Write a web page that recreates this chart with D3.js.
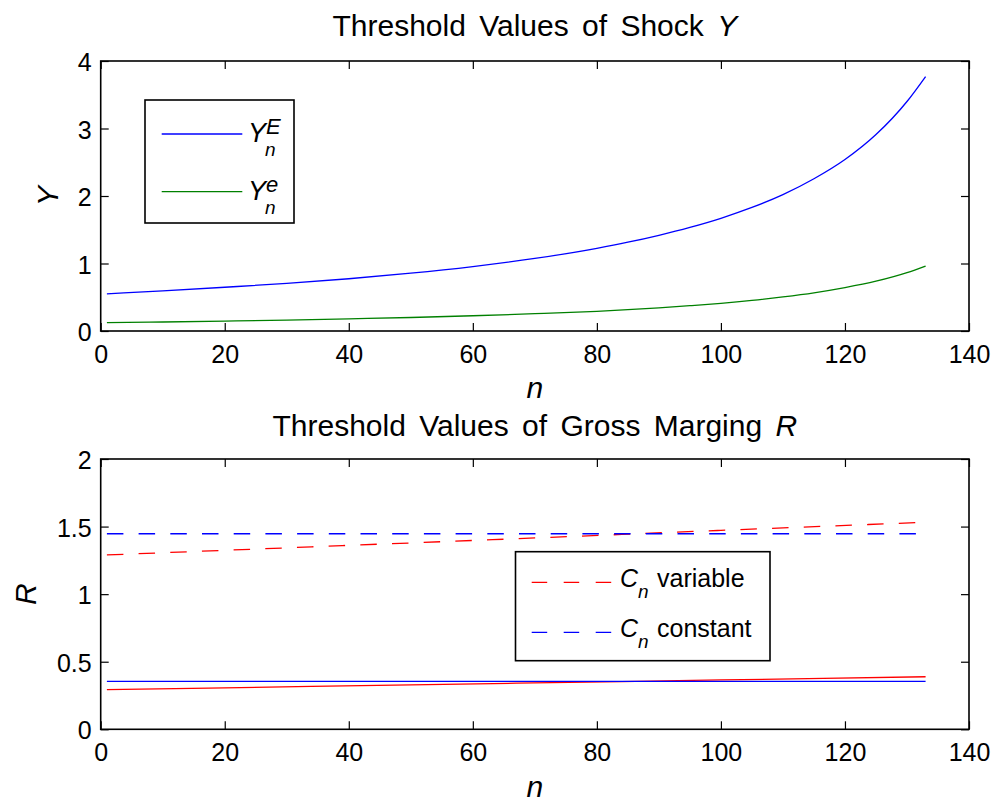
<!DOCTYPE html>
<html>
<head>
<meta charset="utf-8">
<script src="https://cdn.jsdelivr.net/npm/d3@7"></script>
<style>
  html, body { margin: 0; padding: 0; background: #fff; }
  svg { display: block; font-family: "Liberation Sans", Arial, Helvetica, sans-serif; }
  .tick text { font-size: 25px; fill: #000; }
  .tick line { stroke: #000; stroke-width: 1.2; }
</style>
</head>
<body>
<svg id="chart" width="998" height="803"></svg>
<script>
// ---- data ----
const nTop = [1, 10, 20, 30, 40, 50, 60, 70, 80, 85, 90, 95, 100, 105, 110, 115, 120, 125, 130, 133];
const yUpperE = [0.55, 0.595, 0.648, 0.705, 0.774, 0.856, 0.955, 1.075, 1.225, 1.315, 1.418, 1.535, 1.67, 1.83, 2.02, 2.255, 2.54, 2.91, 3.40, 3.77];
const yLowerE = [0.123, 0.133, 0.146, 0.162, 0.18, 0.20, 0.226, 0.256, 0.292, 0.316, 0.343, 0.375, 0.41, 0.453, 0.505, 0.566, 0.643, 0.738, 0.865, 0.963];

const nBot = [1, 34, 67, 100, 133];
const rVariableUpper = [1.29, 1.35, 1.41, 1.472, 1.532];
const rConstantUpper = [1.447, 1.447, 1.447, 1.447, 1.447];
const rVariableLower = [0.293, 0.317, 0.341, 0.365, 0.389];
const rConstantLower = [0.355, 0.355, 0.355, 0.355, 0.355];

const xTicks = [0, 20, 40, 60, 80, 100, 120, 140];
const yTopTicks = [0, 1, 2, 3, 4];
const yBotTicks = [0, 0.5, 1, 1.5, 2];

const topTitle = "Threshold Values of Shock ";
const topTitleVar = "Y";
const botTitle = "Threshold Values of Gross Marging ";
const botTitleVar = "R";

// ---- layout ----
const svg = d3.select("#chart");
const X0 = 100.7, X1 = 969;
const x = d3.scaleLinear().domain([0, 140]).range([X0, X1]);
const yTop = d3.scaleLinear().domain([0, 4]).range([331, 61]);
const yBot = d3.scaleLinear().domain([0, 2]).range([729.3, 459]);

const BLUE = "#0000ff", GREEN = "#008000", RED = "#ff0000";
const TICK = 8;

function drawAxes(y, yTicks, yFmt) {
  const g = svg.append("g");
  const [b, t] = y.range();
  g.append("g").attr("transform", `translate(0,${b})`)
    .call(d3.axisBottom(x).tickValues(xTicks).tickSize(-TICK).tickPadding(14).tickFormat(d3.format("d")))
    .call(s => s.select(".domain").remove())
    .call(s => s.selectAll("text").attr("font-family", null).attr("font-size", null));
  g.append("g").attr("transform", `translate(0,${t})`)
    .call(d3.axisTop(x).tickValues(xTicks).tickSize(-TICK).tickFormat(""))
    .call(s => s.select(".domain").remove());
  g.append("g").attr("transform", `translate(${X0},0)`)
    .call(d3.axisLeft(y).tickValues(yTicks).tickSize(-TICK).tickPadding(9).tickFormat(yFmt))
    .call(s => s.select(".domain").remove())
    .call(s => s.selectAll("text").attr("font-family", null).attr("font-size", null).attr("dy", "0.38em"));
  g.append("g").attr("transform", `translate(${X1},0)`)
    .call(d3.axisRight(y).tickValues(yTicks).tickSize(-TICK).tickFormat(""))
    .call(s => s.select(".domain").remove());
  g.append("rect").attr("x", X0).attr("y", t).attr("width", X1 - X0).attr("height", b - t)
    .attr("fill", "none").attr("stroke", "#000").attr("stroke-width", 1.6);
}

function drawLine(ns, vals, y, color, dash) {
  const line = d3.line().x(d => x(d[0])).y(d => y(d[1])).curve(d3.curveMonotoneX);
  svg.append("path").datum(ns.map((n, i) => [n, vals[i]]))
    .attr("d", line).attr("fill", "none").attr("stroke", color).attr("stroke-width", 1.3)
    .attr("stroke-dasharray", dash || null);
}

// ---- top panel ----
drawAxes(yTop, yTopTicks, d3.format("d"));
drawLine(nTop, yUpperE, yTop, BLUE);
drawLine(nTop, yLowerE, yTop, GREEN);

const tt = svg.append("text").attr("x", (X0 + X1) / 2).attr("y", 36).attr("text-anchor", "middle")
  .attr("font-size", 30).style("word-spacing", "5px");
tt.append("tspan").text(topTitle);
tt.append("tspan").attr("font-style", "italic").text(topTitleVar);

svg.append("text").attr("x", (X0 + X1) / 2).attr("y", 398).attr("text-anchor", "middle")
  .attr("font-size", 30).attr("font-style", "italic").text("n");
svg.append("text").attr("transform", `translate(58,${(61 + 331) / 2}) rotate(-90)`).attr("text-anchor", "middle")
  .attr("font-size", 30).attr("font-style", "italic").text("Y");

// legend top
svg.append("rect").attr("x", 145).attr("y", 100).attr("width", 149).attr("height", 123)
  .attr("fill", "#fff").attr("stroke", "#000").attr("stroke-width", 1.6);
const legTop = [
  { color: BLUE, sup: "E", y: 134 },
  { color: GREEN, sup: "e", y: 191.7 }
];
legTop.forEach(d => {
  svg.append("line").attr("x1", 161.7).attr("x2", 242.3).attr("y1", d.y).attr("y2", d.y)
    .attr("stroke", d.color).attr("stroke-width", 1.3);
  const t = svg.append("text").attr("x", 248).attr("y", d.y + 8).attr("font-style", "italic");
  t.append("tspan").attr("font-size", 27).text("Y");
  t.append("tspan").attr("font-size", 22).attr("dy", -8).text(d.sup);
  t.append("tspan").attr("font-size", 19).attr("x", 265).attr("dy", 22).text("n");
});

// ---- bottom panel ----
drawAxes(yBot, yBotTicks, d3.format(""));
drawLine(nBot, rVariableUpper, yBot, RED, "16.5,15.2");
drawLine(nBot, rConstantUpper, yBot, BLUE, "16.5,15.2");
drawLine(nBot, rVariableLower, yBot, RED);
drawLine(nBot, rConstantLower, yBot, BLUE);

const bt = svg.append("text").attr("x", (X0 + X1) / 2).attr("y", 436).attr("text-anchor", "middle")
  .attr("font-size", 30).style("word-spacing", "5px");
bt.append("tspan").text(botTitle);
bt.append("tspan").attr("font-style", "italic").text(botTitleVar);

svg.append("text").attr("x", (X0 + X1) / 2).attr("y", 797).attr("text-anchor", "middle")
  .attr("font-size", 30).attr("font-style", "italic").text("n");
svg.append("text").attr("transform", `translate(36,${(459 + 729.3) / 2}) rotate(-90)`).attr("text-anchor", "middle")
  .attr("font-size", 30).attr("font-style", "italic").text("R");

// legend bottom
svg.append("rect").attr("x", 515.5).attr("y", 551.7).attr("width", 254.5).attr("height", 109)
  .attr("fill", "#fff").attr("stroke", "#000").attr("stroke-width", 1.6);
const legBot = [
  { color: RED, label: "variable", y: 582.3 },
  { color: BLUE, label: "constant", y: 632.3 }
];
legBot.forEach(d => {
  svg.append("line").attr("x1", 531.7).attr("x2", 612).attr("y1", d.y).attr("y2", d.y)
    .attr("stroke", d.color).attr("stroke-width", 1.3).attr("stroke-dasharray", "15.5,16.5");
  const t = svg.append("text").attr("x", 620).attr("y", d.y + 4.5).attr("font-size", 25);
  t.append("tspan").attr("font-style", "italic").text("C");
  t.append("tspan").attr("font-style", "italic").attr("font-size", 19).attr("dy", 11.5).text("n");
  t.append("tspan").attr("x", 657).attr("dy", -11.5).text(d.label);
});
</script>
</body>
</html>
